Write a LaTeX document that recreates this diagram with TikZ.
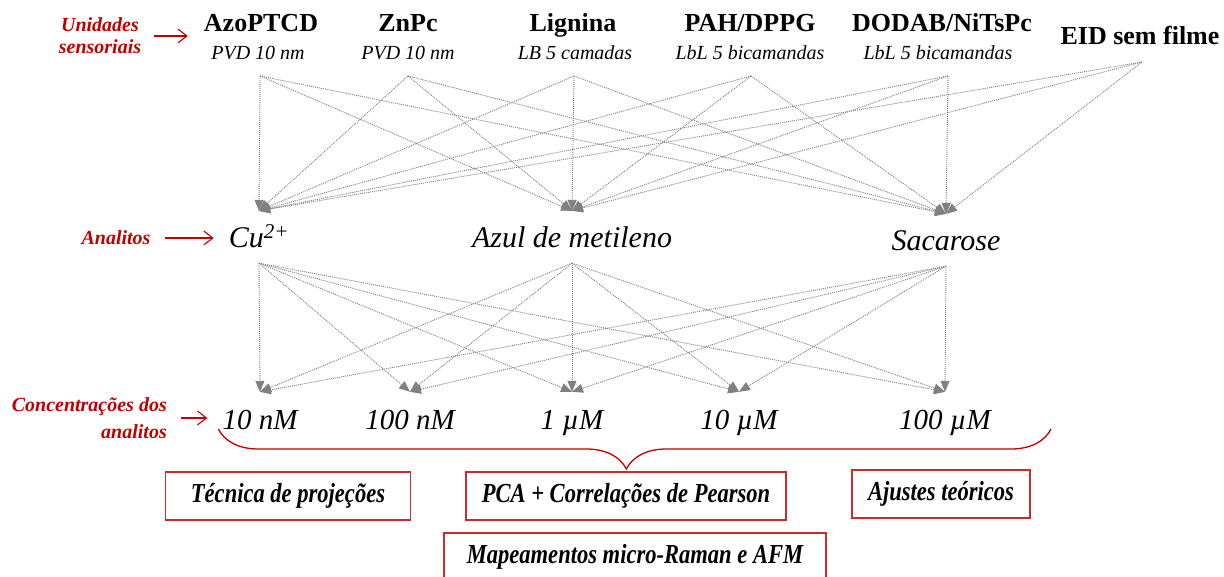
\documentclass[tikz,border=0pt]{standalone}
\usepackage{fontspec}
\setmainfont{Liberation Serif}
\newfontfamily\narrowserif{Liberation Serif}[FakeStretch=0.82]
\usepackage{tikz}
\usetikzlibrary{arrows.meta, calc, positioning, decorations.pathreplacing}

\definecolor{labelred}{RGB}{192,0,0}
\definecolor{boxred}{RGB}{200,45,45}

\tikzset{
  sensorname/.style={font=\fontsize{26}{28}\selectfont\bfseries, anchor=base, inner sep=0pt},
  sensorfilm/.style={font=\fontsize{20}{22}\selectfont\itshape, anchor=base, inner sep=0pt},
  analyte/.style={font=\fontsize{30}{32}\selectfont\itshape, inner sep=0pt, text height=21pt, text depth=0pt, minimum height=52pt},
  concval/.style={font=\fontsize{29}{31}\selectfont\itshape, inner sep=0pt, text height=20pt, text depth=0pt, minimum height=54pt},
  sidelabel/.style={font=\fontsize{20}{22}\selectfont\bfseries\itshape, text=labelred, inner sep=0pt},
  sidearrow/.style={draw=labelred, line width=1.1pt, -{Straight Barb[length=9pt,width=14pt]}},
  methodbox/.style={draw=boxred, line width=1.3pt, minimum height=48pt, inner sep=0pt, font=\narrowserif\fontsize{27.5}{29}\selectfont\bfseries\itshape},
  fan/.style={every edge/.style={draw, gray, line width=0.9pt, dash pattern=on 1pt off 1pt, ->}},
}

\begin{document}
\begin{tikzpicture}[x=1pt, y=-1pt, >={Triangle[length=11pt,width=9pt]}]
    \useasboundingbox (0,0) rectangle (1224,577);

    % Sensing units (films)
    \node [sensorname] (azo) at (261,32) {AzoPTCD};
    \node [sensorfilm] (azo-f) at (258,60) {PVD 10 nm};
    \node [sensorname] (znpc) at (408,32) {ZnPc};
    \node [sensorfilm] (znpc-f) at (408,60) {PVD 10 nm};
    \node [sensorname] (lig) at (573,32) {Lignina};
    \node [sensorfilm] (lig-f) at (575,60) {LB 5 camadas};
    \node [sensorname] (pah) at (750,32) {PAH/DPPG};
    \node [sensorfilm] (pah-f) at (750,60) {LbL 5 bicamandas};
    \node [sensorname] (dod) at (942,32) {DODAB/NiTsPc};
    \node [sensorfilm] (dod-f) at (938,60) {LbL 5 bicamandas};
    \node [sensorname] (eid) at (1140,45) {EID sem filme};

    % Fan origins below each unit
    \coordinate (azo-o) at (260,76);
    \coordinate (znpc-o) at (408,76);
    \coordinate (lig-o) at (574,76);
    \coordinate (pah-o) at (751,76);
    \coordinate (dod-o) at (948,76);
    \coordinate (eid-o) at (1142,62);

    % Analytes
    \node [analyte] (cu) at (259,237) {Cu\textsuperscript{2+}};
    \node [analyte] (azul) at (572,237) {Azul de metileno};
    \node [analyte] (sac) at (946,240) {Sacarose};

    % Concentrations
    \node [concval] (c10n) at (260,419) {10 nM};
    \node [concval] (c100n) at (410,419) {100 nM};
    \node [concval] (c1u) at (572,419) {1 µM};
    \node [concval] (c10u) at (739,419) {10 µM};
    \node [concval] (c100u) at (945,419) {100 µM};

    % Side labels
    \node [sidelabel, align=center] (units-lbl) at (100,36) {Unidades\\sensoriais};
    \node [sidelabel] (an-lbl) at (116,238) {Analitos};
    \node [sidelabel, align=right, anchor=east, font=\fontsize{20}{27}\selectfont\bfseries\itshape] (conc-lbl) at (167,418) {Concentrações dos\\analitos};

    \draw [sidearrow, shorten <=13pt, shorten >=16pt] (units-lbl.east) -- (units-lbl.east -| azo.west);
    \draw [sidearrow, shorten <=14pt, shorten >=15pt] (an-lbl.east) -- (an-lbl.east -| cu.west);
    \draw [sidearrow, shorten <=14pt, shorten >=15pt] (conc-lbl.east) -- (conc-lbl.east -| c10n.west);

    % Units -> analytes
    \path [fan] (azo-o) edge (cu.north) edge (azul.north) edge (sac.north);
    \path [fan] (znpc-o) edge (cu.north) edge (azul.north) edge (sac.north);
    \path [fan] (lig-o) edge (cu.north) edge (azul.north) edge (sac.north);
    \path [fan] (pah-o) edge (cu.north) edge (azul.north) edge (sac.north);
    \path [fan] (dod-o) edge (cu.north) edge (azul.north) edge (sac.north);
    \path [fan] (eid-o) edge (cu.north) edge (azul.north) edge (sac.north);

    % Analytes -> concentrations
    \path [fan] (cu.south) edge (c10n.north) edge (c100n.north) edge (c1u.north) edge (c10u.north) edge (c100u.north);
    \path [fan] (azul.south) edge (c10n.north) edge (c100n.north) edge (c1u.north) edge (c10u.north) edge (c100u.north);
    \path [fan] (sac.south) edge (c10n.north) edge (c100n.north) edge (c1u.north) edge (c10u.north) edge (c100u.north);

    % Brace under the concentrations
    \draw [labelred, line width=1.3pt, decorate, decoration={brace, mirror, amplitude=40pt, aspect=0.49}]
        ($(c10n.base west)+(-4,0)$) -- ($(c100u.base east)+(60,0)$);

    % Analysis methods
    \node [methodbox, minimum width=245pt] (proj) at (288,496) {Técnica de projeções};
    \node [methodbox, minimum width=320pt] (pca) at (626,496) {PCA + Correlações de Pearson};
    \node [methodbox, minimum width=178pt] (fit) at (941,494) {Ajustes teóricos};
    \node [methodbox, minimum width=382pt] (map) at (635,557) {Mapeamentos micro-Raman e AFM};

\end{tikzpicture}
\end{document}
